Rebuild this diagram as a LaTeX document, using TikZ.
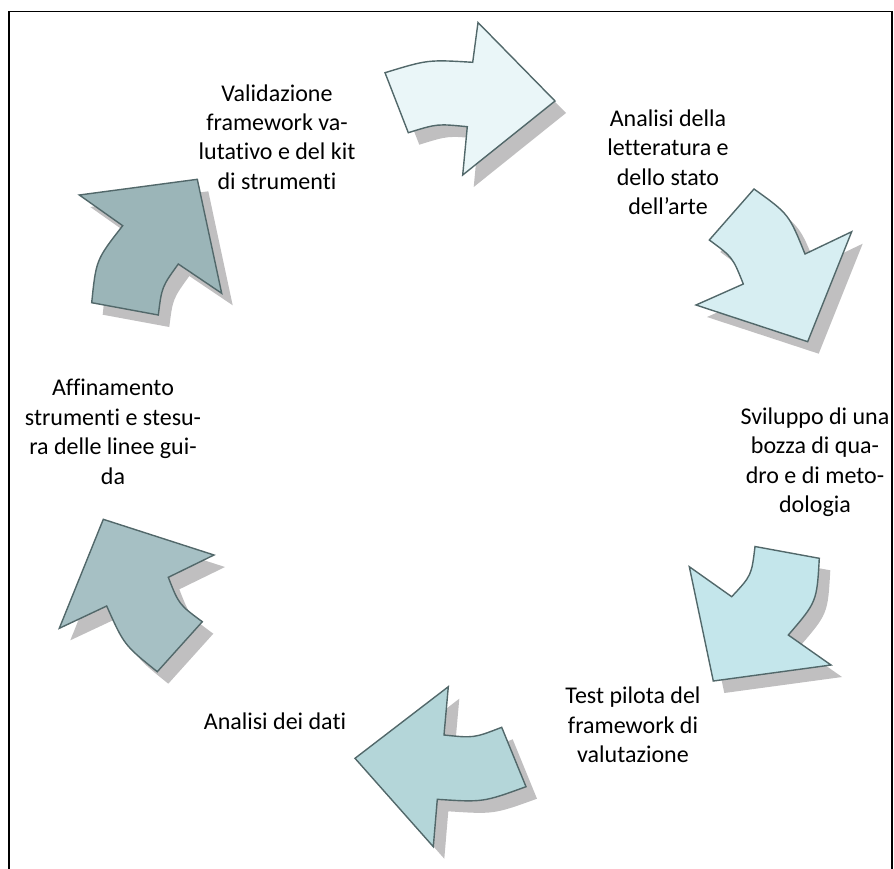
\documentclass[tikz,border=0pt]{standalone}
\usepackage{fontspec}
\setmainfont{Carlito}[Ligatures=NoCommon]
\definecolor{edgecol}{HTML}{52686A}
\definecolor{shadowcol}{HTML}{C0BFC0}
\definecolor{fillA}{HTML}{EAF6F8}
\definecolor{fillB}{HTML}{D7EEF2}
\definecolor{fillC}{HTML}{C4E6EB}
\definecolor{fillD}{HTML}{B4D6D9}
\definecolor{fillE}{HTML}{A6C0C4}
\definecolor{fillF}{HTML}{9BB5B8}
\tikzset{
  cyclearrow/.style={draw=edgecol, line width=1.4pt, line join=miter, fill=#1},
  arrowshadow/.style={fill=shadowcol, draw=none, shift={(11,12)}},
  label/.style={font=\fontsize{24}{29.5}\selectfont, align=center, inner sep=0pt},
  frameline/.style={draw=black, line width=1.6pt}
}
\begin{document}
\begin{tikzpicture}[x=1pt, y=-1pt]
\useasboundingbox (0,0) rectangle (894,868);

% outer frame (bottom side runs off the page)
\draw[frameline] (9,880) -- (9,11.5) -- (892,11.5) -- (892,880);

% arrow outlines, clockwise from the top
\def\arrowA{(385,72.7) .. controls (427.9,59.6) .. (472.7,62.3) -- (478,22.5) -- (555,101) -- (462.7,175) -- (467.3,126.7) .. controls (437.2,123.7) .. (408.3,132.7) -- cycle}
\def\arrowB{(754,189) -- (709.3,240) .. controls (732.6,257.1) .. (743.3,284) -- (696,305) -- (807.7,341.7) -- (851.7,231.7) -- (805,254) .. controls (788.9,214.1) .. (754,189) -- cycle}
\def\arrowC{(755,546.5) -- (819.3,558.3) .. controls (816.8,601.9) .. (788.3,635) -- (831,665) -- (713.3,681) -- (689.3,566.7) -- (731.7,596.7) .. controls (751.5,575.5) .. (755,546.5) -- cycle}
\def\arrowD{(448.3,686.7) -- (444,735) .. controls (473.8,738.1) .. (501.7,727.3) -- (526,786.7) .. controls (483,802.3) .. (437.3,799.3) -- (433.3,846.7) -- (355,758.3) -- cycle}
\def\arrowE{(103.3,519.3) -- (214,555) -- (168.3,577.3) .. controls (178.9,604.4) .. (202.3,621.7) -- (157.3,671.7) .. controls (124.1,645) .. (106.7,606) -- (59.3,628.3) -- cycle}
\def\arrowF{(79.3,195) -- (197.3,179.3) -- (221.7,293.3) -- (178.3,264) .. controls (161.8,286.9) .. (158.3,315) -- (91.7,302.7) .. controls (96.1,259.7) .. (122.7,225.7) -- cycle}

% drop shadows
\foreach \p in {\arrowA,\arrowB,\arrowC,\arrowD,\arrowE,\arrowF}{
  \path[arrowshadow] \p;
}

% arrows
\path[cyclearrow=fillA] \arrowA;
\path[cyclearrow=fillB] \arrowB;
\path[cyclearrow=fillC] \arrowC;
\path[cyclearrow=fillD] \arrowD;
\path[cyclearrow=fillE] \arrowE;
\path[cyclearrow=fillF] \arrowF;

% step labels
\node[label] (validazione) at (277,137) {Validazione\\framework va-\\lutativo e del kit\\di strumenti};
\node[label] (analisi) at (668,162) {Analisi della\\letteratura e\\dello stato\\dell’arte};
\node[label] (sviluppo) at (815,462) {Sviluppo di una\\bozza di qua-\\dro e di meto-\\dologia};
\node[label] (test) at (633,725) {Test pilota del\\framework di\\valutazione};
\node[label] (dati) at (275,721) {Analisi dei dati};
\node[label] (affinamento) at (113,432) {Affinamento\\strumenti e stesu-\\ra delle linee gui-\\da};
\end{tikzpicture}
\end{document}
